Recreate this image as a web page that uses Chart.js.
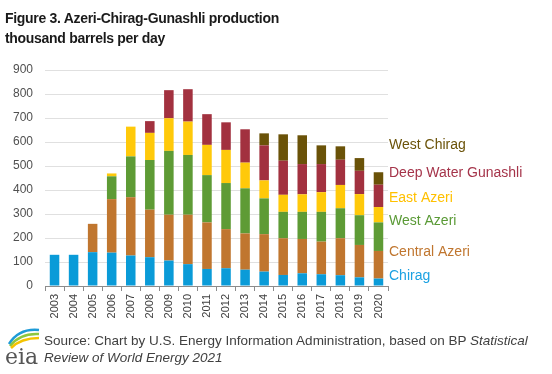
<!DOCTYPE html>
<html>
<head>
<meta charset="utf-8">
<script src="https://cdn.jsdelivr.net/npm/chart.js@4"></script>
<style>
  body { margin: 0; background: #fff; }
  #wrap { position: relative; width: 552px; height: 374px; overflow: hidden; font-family: "Liberation Sans", Arial, sans-serif; }
  #chart { position: absolute; left: 0; top: 0; }
  .title { position: absolute; left: 5px; font-weight: bold; font-size: 14px; color: #1a1a1a; letter-spacing: -0.3px; white-space: nowrap; }
  .src { position: absolute; left: 44px; font-size: 13.5px; color: #404040; white-space: nowrap; }
  #logo { position: absolute; left: 3px; top: 322px; }
</style>
</head>
<body>
<div id="wrap">
  <canvas id="chart" width="552" height="374"></canvas>
  <div class="title" style="top:10px">Figure 3. Azeri-Chirag-Gunashli production</div>
  <div class="title" style="top:30px">thousand barrels per day</div>
  <svg id="logo" width="40" height="46" viewBox="0 0 40 46">
    <path d="M6 22 Q16 6 36 8" stroke="#1e9bd7" stroke-width="2.5" fill="none"/>
    <path d="M7 24 Q17 11 36 12" stroke="#8cc63f" stroke-width="2.5" fill="none"/>
    <path d="M8 26 Q18 16 36 16" stroke="#f4c300" stroke-width="2.5" fill="none"/>
    <text x="2" y="42" font-family="DejaVu Serif, serif" font-size="22" fill="#555">eia</text>
  </svg>
  <div class="src" style="top:333px">Source: Chart by U.S. Energy Information Administration, based on BP <i>Statistical</i></div>
  <div class="src" style="top:350px"><i>Review of World Energy 2021</i></div>
</div>
<script>
const years = ["2003","2004","2005","2006","2007","2008","2009","2010","2011","2012","2013","2014","2015","2016","2017","2018","2019","2020"];
const chirag       = [130,130,141,139,127,120,106, 91, 71, 74, 68, 60, 46, 53, 49, 45, 36, 31];
const centralAzeri = [  0,  0,118,223,243,198,191,206,194,163,151,156,153,143,136,154,135,115];
const westAzeri    = [  0,  0,  0, 95,170,207,266,249,197,192,188,149,110,113,124,125,124,119];
const eastAzeri    = [  0,  0,  0, 12,124,113,136,139,126,138,107, 75, 71, 73, 82, 97, 88, 64];
const deepWater    = [  0,  0,  0,  0,  0, 49,117,135,128,115,139,146,142,126,117,105, 97, 93];
const westChirag   = [  0,  0,  0,  0,  0,  0,  0,  0,  0,  0,  0, 50,110,120, 78, 56, 53, 52];
const yTicks = [0,100,200,300,400,500,600,700,800,900];
const seriesNames = ["Chirag","Central Azeri","West Azeri","East Azeri","Deep Water Gunashli","West Chirag"];
const seriesColors = ["#0a9bd8","#c0762f","#5e9b35","#ffc90a","#a2313f","#6a5208"];
const labelColors = ["#1ba1e2","#c0762f","#5a9a36","#ffc000","#a5344a","#6b5309"];
const labelValues = [40,143,269,365,470,587];

const seriesData = [chirag, centralAzeri, westAzeri, eastAzeri, deepWater, westChirag];

// side labels instead of a legend
const sideLabels = {
  id: "sideLabels",
  afterDraw(chart) {
    const ctx = chart.ctx;
    const y = chart.scales.y;
    ctx.save();
    ctx.font = "14px 'Liberation Sans', Arial, sans-serif";
    ctx.textBaseline = "middle";
    ctx.textAlign = "left";
    seriesNames.forEach((name, i) => {
      ctx.fillStyle = labelColors[i];
      ctx.fillText(name, 389, y.getPixelForValue(labelValues[i]));
    });
    ctx.restore();
  }
};

new Chart(document.getElementById("chart"), {
  type: "bar",
  data: {
    labels: years,
    datasets: seriesData.map((d, i) => ({
      label: seriesNames[i],
      data: d,
      backgroundColor: seriesColors[i],
      barPercentage: 0.5,
      categoryPercentage: 1
    }))
  },
  options: {
    responsive: false,
    animation: false,
    layout: { padding: { left: 0, right: 164, top: 70, bottom: 0 } },
    plugins: { legend: { display: false }, tooltip: { enabled: false } },
    scales: {
      x: {
        stacked: true,
        afterFit: s => { s.height = 88; },
        grid: { offset: true, drawOnChartArea: false, drawTicks: true, tickLength: 5, color: "#8c8c8c" },
        border: { color: "#8c8c8c" },
        ticks: { color: "#404040", font: { size: 11, family: "'Liberation Sans', Arial, sans-serif" }, minRotation: 90, maxRotation: 90, padding: 3 }
      },
      y: {
        stacked: true,
        min: 0, max: 900,
        afterFit: s => { s.width = 45; },
        afterBuildTicks: s => { s.ticks = yTicks.map(v => ({ value: v })); },
        grid: { color: "#e0e0e0", drawTicks: false },
        border: { display: false },
        ticks: { color: "#505050", font: { size: 12, family: "'Liberation Sans', Arial, sans-serif" }, padding: 12 }
      }
    }
  },
  plugins: [sideLabels]
});
</script>
</body>
</html>
